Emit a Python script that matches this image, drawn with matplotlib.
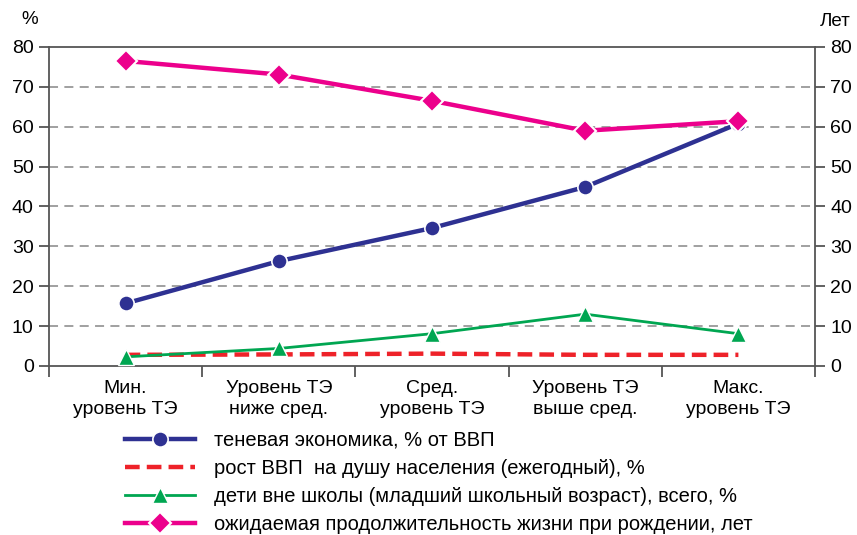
import matplotlib
matplotlib.use("Agg")
import matplotlib.pyplot as plt
from matplotlib.ticker import FixedLocator, NullFormatter

plt.rcParams['font.family'] = ['Liberation Sans', 'DejaVu Sans']

categories = ["Мин.\nуровень ТЭ", "Уровень ТЭ\nниже сред.", "Сред.\nуровень ТЭ",
              "Уровень ТЭ\nвыше сред.", "Макс.\nуровень ТЭ"]
shadow = [15.7, 26.3, 34.6, 44.9, 60.8]
gdp_growth = [2.8, 2.9, 3.1, 2.8, 2.8]
out_of_school = [2.3, 4.4, 8.1, 13.0, 8.1]
life_exp = [76.5, 73.1, 66.5, 59.0, 61.4]

labels = ["теневая экономика, % от ВВП",
          "рост ВВП  на душу населения (ежегодный), %",
          "дети вне школы (младший школьный возраст), всего, %",
          "ожидаемая продолжительность жизни при рождении, лет"]
yticks = [0, 10, 20, 30, 40, 50, 60, 70, 80]

W, H = 857, 535
fig = plt.figure(figsize=(W / 100, H / 100), dpi=100)
ax = fig.add_axes([49 / W, 1 - 366 / H, (815 - 49) / W, (366 - 47) / H])

x = list(range(len(categories)))
spine_c = '#555555'

ax.set_xlim(-0.5, len(categories) - 0.5)
ax.set_ylim(0, 80)
ax.set_yticks(yticks)
for y in yticks[1:-1]:
    ax.axhline(y, color='#999999', lw=1.3, ls=(0, (5, 3.5)), zorder=1)

l1, = ax.plot(x, shadow, color='#2E3192', lw=3.2, marker='o', ms=11,
              mfc='#2E3192', mec='white', mew=1.2, zorder=4)
l2, = ax.plot(x, gdp_growth, color='#EE2229', lw=3.2, dashes=(3.3, 1.6), zorder=3)
l3, = ax.plot(x, out_of_school, color='#00A651', lw=2.0, marker='^', ms=11,
              mfc='#00A651', mec='white', mew=1.0, zorder=3)
l4, = ax.plot(x, life_exp, color='#EC008C', lw=3.2, marker='D', ms=11.5,
              mfc='#EC008C', mec='white', mew=1.5, zorder=5)

for s in ax.spines.values():
    s.set_color(spine_c)
    s.set_linewidth(1.3)

ax.set_xticks(x)
ax.set_xticklabels(categories, fontsize=14, linespacing=1.3)
ax.tick_params(axis='x', which='major', length=0, pad=10)
ax.xaxis.set_minor_locator(FixedLocator([i - 0.5 for i in range(len(categories) + 1)]))
ax.xaxis.set_minor_formatter(NullFormatter())
ax.tick_params(axis='x', which='minor', length=8, width=1.3, color=spine_c, direction='out')

ax.tick_params(axis='y', which='major', left=True, right=True, labelleft=True,
               labelright=True, length=7, width=1.3, color=spine_c,
               labelsize=14, pad=4, direction='out')

fig.text(30 / W, 1 - 19 / H, "%", fontsize=13.5, ha='center', va='center')
fig.text(835 / W, 1 - 21 / H, "Лет", fontsize=13.5, ha='center', va='center')

fig.legend([l1, l2, l3, l4], labels, loc='upper left',
           bbox_to_anchor=(125 / W, 1 - 431 / H), frameon=False,
           fontsize=14.5, handlelength=3.5, handletextpad=0.9,
           labelspacing=0.45, borderaxespad=0, borderpad=0)

fig.savefig("out.png", dpi=100)
